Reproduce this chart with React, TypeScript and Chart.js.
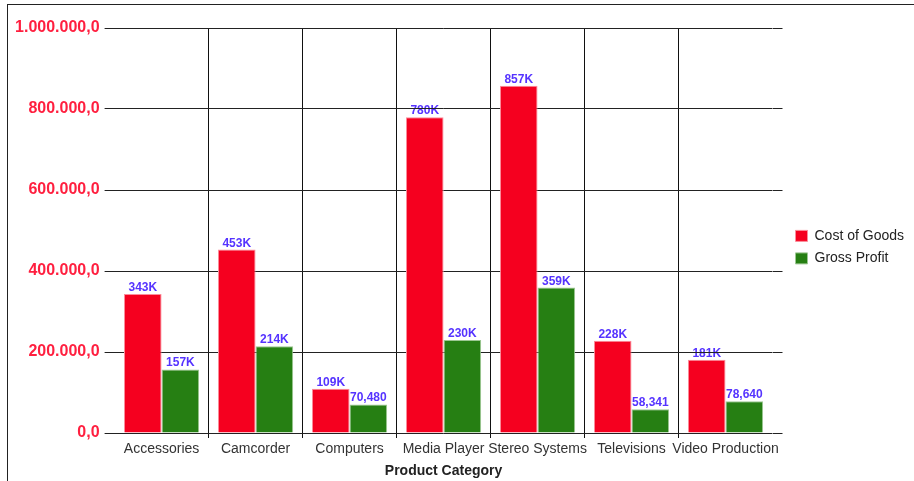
import React, { useEffect, useRef } from 'react';
import { Chart, registerables } from 'chart.js';

Chart.register(...registerables);

const categories = ['Accessories', 'Camcorder', 'Computers', 'Media Player', 'Stereo Systems', 'Televisions', 'Video Production'];
const costOfGoods = [342960, 452880, 109240, 779600, 857130, 228050, 180740];
const grossProfit = [156820, 213950, 70480, 229870, 358960, 58341, 78640];
const seriesNames = ['Cost of Goods', 'Gross Profit'];
const yMin = 0;
const yMax = 1000000;
const yStep = 200000;
const xTitle = 'Product Category';

const FONT = "'Liberation Sans', Arial, sans-serif";

function fmtY(v: number): string {
  const s = String(Math.round(v)).replace(/\B(?=(\d{3})+(?!\d))/g, '.');
  return s + ',0';
}

function fmtLabel(v: number): string {
  if (v >= 100000) return Math.round(v / 1000) + 'K';
  return String(Math.round(v)).replace(/\B(?=(\d{3})+(?!\d))/g, ',');
}

const dataLabelPlugin = {
  id: 'dataLabelsUnder',
  beforeDraw(chart: any) {
    const ctx = chart.ctx;
    ctx.save();
    ctx.font = `bold 12px ${FONT}`;
    ctx.fillStyle = '#5533ff';
    ctx.textAlign = 'center';
    ctx.textBaseline = 'alphabetic';
    chart.data.datasets.forEach((ds: any, di: number) => {
      const meta = chart.getDatasetMeta(di);
      if (meta.hidden) return;
      meta.data.forEach((el: any, i: number) => {
        ctx.fillText(fmtLabel(ds.data[i]), el.x, el.y - 3);
      });
    });
    ctx.restore();
  },
};

export default function App() {
  const ref = useRef<HTMLCanvasElement | null>(null);

  useEffect(() => {
    document.body.style.margin = '0';
    document.body.style.overflow = 'hidden';
    const canvas = ref.current;
    if (!canvas) return;
    Chart.defaults.font.family = FONT;
    const chart = new Chart(canvas, {
      type: 'bar',
      data: {
        labels: categories,
        datasets: [
          {
            label: seriesNames[0],
            data: costOfGoods,
            backgroundColor: '#f5001f',
            borderColor: '#fb8d9b',
            borderWidth: 1,
            categoryPercentage: 0.8,
            barPercentage: 1.0,
          },
          {
            label: seriesNames[1],
            data: grossProfit,
            backgroundColor: '#267f13',
            borderColor: '#9cc792',
            borderWidth: 1,
            categoryPercentage: 0.8,
            barPercentage: 1.0,
          },
        ],
      },
      options: {
        responsive: false,
        animation: false,
        devicePixelRatio: 1,
        layout: { padding: { left: 15, top: 28, right: 0, bottom: 0 } },
        plugins: {
          tooltip: { enabled: false },
          legend: {
            position: 'right',
            align: 'start',
            title: {
              display: true,
              text: '',
              font: { size: 12, family: FONT },
              padding: { top: 178, bottom: 0 },
            },
            labels: {
              boxWidth: 12,
              boxHeight: 11,
              padding: 8.5,
              color: '#222',
              font: { size: 14, family: FONT },
            },
          },
        },
        scales: {
          x: {
            offset: true,
            grid: {
              offset: true,
              tickLength: 5,
              lineWidth: 1,
              color: (c: any) => (c.type !== 'tick' || c.index === 0 ? 'rgba(0,0,0,0)' : '#111'),
            },
            border: { display: false },
            ticks: {
              color: '#333',
              font: { size: 14, family: FONT },
              padding: 3,
              maxRotation: 0,
              autoSkip: false,
            },
            title: {
              display: true,
              text: xTitle,
              color: '#222',
              font: { size: 14, weight: 'bold', family: FONT },
              padding: { top: 4, bottom: 1 },
            },
            afterFit: (s: any) => {
              s.height = 48;
            },
          },
          y: {
            min: yMin,
            max: yMax,
            ticks: {
              stepSize: yStep,
              color: '#ff1f3f',
              font: { size: 16, weight: 'bold', family: FONT },
              padding: 5,
              callback: (v: any) => fmtY(Number(v)),
            },
            grid: { color: '#222', tickLength: 10, lineWidth: 1 },
            border: { display: false },
            afterFit: (s: any) => {
              s.width = 99.6;
            },
          },
          y2: {
            position: 'right',
            min: yMin,
            max: yMax,
            ticks: { display: false, stepSize: yStep },
            grid: { drawOnChartArea: false, color: '#222', tickLength: 10, lineWidth: 1 },
            border: { display: false },
            afterFit: (s: any) => {
              s.width = 14.5;
            },
          },
        },
      },
      plugins: [dataLabelPlugin],
    } as any);
    return () => chart.destroy();
  }, []);

  return (
    <div style={{ position: 'relative', width: 914, height: 481, overflow: 'hidden', background: '#fff' }}>
      <canvas ref={ref} width={914} height={481} style={{ position: 'absolute', left: 0, top: 0 }} />
      <div
        style={{
          position: 'absolute',
          left: 7,
          top: 4,
          width: 2000,
          height: 2000,
          border: '1px solid #222',
          boxSizing: 'border-box',
          pointerEvents: 'none',
        }}
      />
    </div>
  );
}
